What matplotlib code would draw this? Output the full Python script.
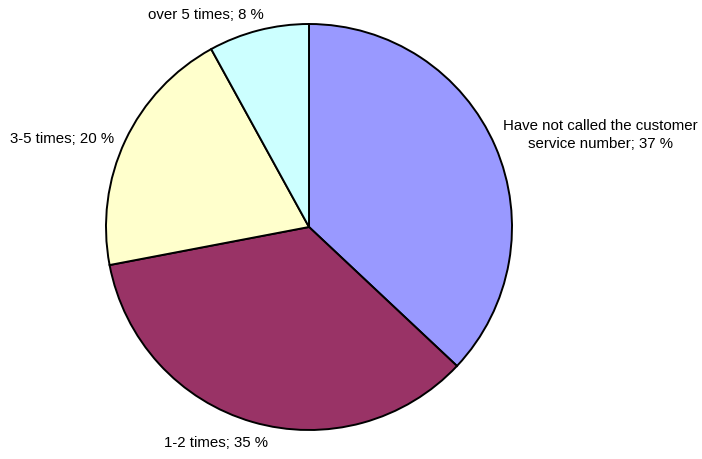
import matplotlib.pyplot as plt

# call frequency to the customer service number
categories = ["Have not called the customer\nservice number", "1-2 times", "3-5 times", "over 5 times"]
shares = [37, 35, 20, 8]
colors = ["#9999FF", "#993366", "#FFFFCC", "#CCFFFF"]

# label centres, in pixels from the top-left corner
label_pos = [(600, 135), (216, 443), (62, 139), (206, 15)]

W, H = 702, 459
fig = plt.figure(figsize=(W / 100, H / 100), dpi=100)
ax = fig.add_axes([0, 0, 1, 1])

ax.pie(shares, colors=colors, startangle=90, counterclock=False,
       center=(309, H - 227), radius=203, frame=True,
       wedgeprops=dict(edgecolor="black", linewidth=1.4))
ax.set_xlim(0, W)
ax.set_ylim(0, H)
ax.set_aspect("equal")
ax.axis("off")

for name, val, (px, py) in zip(categories, shares, label_pos):
    ax.text(px, H - py, f"{name}; {val} %", ha="center", va="center",
            fontsize=10.8, family=["Liberation Sans", "DejaVu Sans"],
            multialignment="center", linespacing=1.3)

fig.savefig("out.png", dpi=100)
